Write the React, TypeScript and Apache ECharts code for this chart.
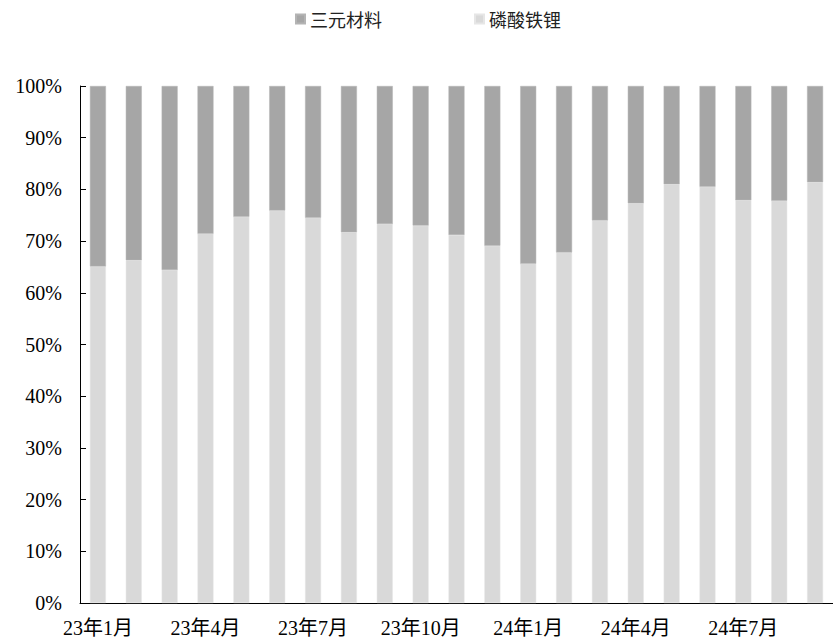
import React, { useEffect, useRef } from "react";
import * as echarts from "echarts";

// Monthly share of installed battery capacity by cathode chemistry, 2023-01 .. 2024-09
const months = [
  "23年1月", "23年2月", "23年3月", "23年4月", "23年5月", "23年6月", "23年7月",
  "23年8月", "23年9月", "23年10月", "23年11月", "23年12月", "24年1月", "24年2月",
  "24年3月", "24年4月", "24年5月", "24年6月", "24年7月", "24年8月", "24年9月",
];

// 磷酸铁锂 share (%)
const lfpShare = [
  65.1, 66.3, 64.4, 71.4, 74.7, 75.9, 74.5, 71.7, 73.3, 73.0, 71.2,
  69.1, 65.6, 67.8, 74.0, 77.3, 81.0, 80.5, 77.9, 77.8, 81.4,
];

// 三元材料 share (%)
const nmcShare = [
  34.9, 33.7, 35.6, 28.6, 25.3, 24.1, 25.5, 28.3, 26.7, 27.0, 28.8,
  30.9, 34.4, 32.2, 26.0, 22.7, 19.0, 19.5, 22.1, 22.2, 18.6,
];

const yTicks = { min: 0, max: 100, interval: 10 };

const serif = "'Liberation Serif', 'Times New Roman', 'Noto Sans CJK SC', serif";
const cjk = "'Noto Sans CJK SC', sans-serif";

export default function App() {
  const ref = useRef<HTMLDivElement>(null);

  useEffect(() => {
    document.body.style.margin = "0";
    if (!ref.current) return;
    const chart = echarts.init(ref.current, null, { renderer: "svg" });
    chart.setOption({
      animation: false,
      backgroundColor: "#ffffff",
      legend: {
        data: ["三元材料", "磷酸铁锂"],
        left: 290,
        top: 5,
        itemWidth: 9,
        itemHeight: 9,
        itemGap: 92,
        icon: "rect",
        textStyle: { fontFamily: cjk, fontSize: 18, color: "#222" },
      },
      grid: { left: 80, top: 86, width: 759, height: 517 },
      xAxis: {
        type: "category",
        data: months,
        boundaryGap: true,
        axisLine: { lineStyle: { color: "#000", width: 1 } },
        axisTick: { inside: true, length: 6, interval: 0, lineStyle: { color: "#000" } },
        axisLabel: {
          interval: 2,
          margin: 15,
          color: "#000",
          fontSize: 20,
          fontFamily: serif,
        },
      },
      yAxis: {
        type: "value",
        min: yTicks.min,
        max: yTicks.max,
        interval: yTicks.interval,
        axisLine: { show: true, lineStyle: { color: "#000", width: 1 } },
        axisTick: { show: true, inside: true, length: 6, lineStyle: { color: "#000" } },
        splitLine: { show: false },
        axisLabel: {
          formatter: "{value}%",
          margin: 18,
          color: "#000",
          fontSize: 20,
          fontFamily: serif,
        },
      },
      series: [
        {
          name: "磷酸铁锂",
          type: "bar",
          stack: "share",
          barWidth: 16,
          data: lfpShare,
          itemStyle: { color: "#D9D9D9", borderColor: "#E6E6E6", borderWidth: 0.5 },
        },
        {
          name: "三元材料",
          type: "bar",
          stack: "share",
          barWidth: 16,
          data: nmcShare,
          itemStyle: { color: "#A6A6A6", borderColor: "#B4B4B4", borderWidth: 0.5 },
        },
      ],
    });
    return () => chart.dispose();
  }, []);

  return <div ref={ref} style={{ width: 833, height: 640 }} />;
}
